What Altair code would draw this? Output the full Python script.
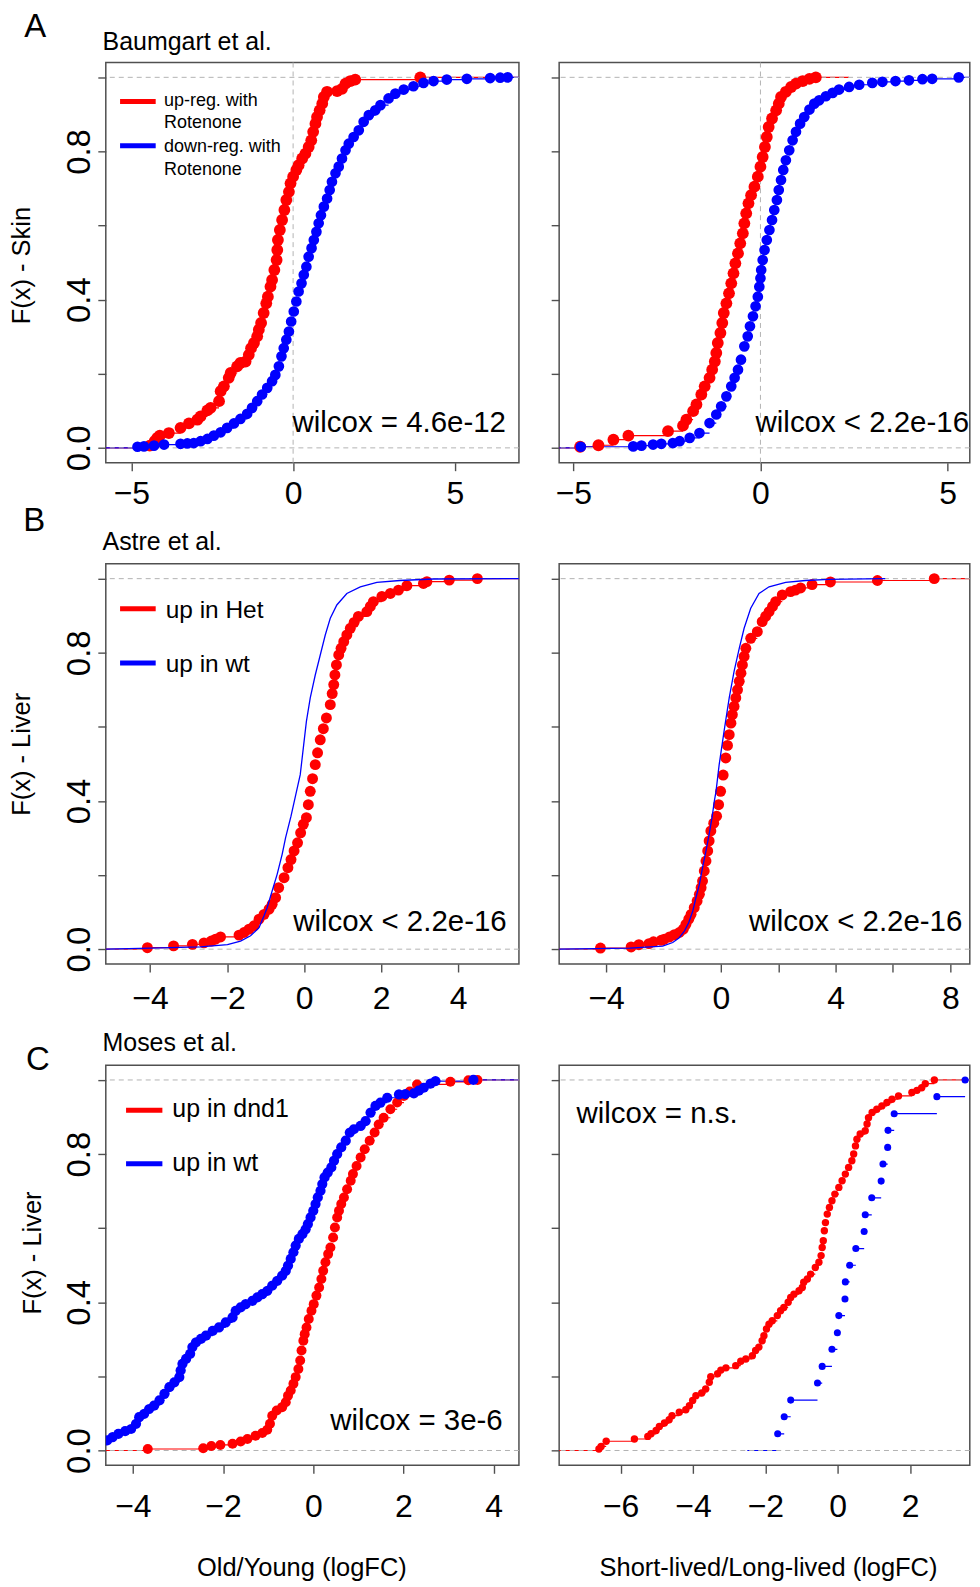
import json
import altair as alt
import pandas as pd

FONT = "Liberation Sans"
RED, BLUE, GRAY, FRAME = "#ff0000", "#0000ff", "#b3b3b3", "#505050"

# ---------------- text ----------------
panel_letters = ["A", "B", "C"]
study_titles = ["Baumgart et al.", "Astre et al.", "Moses et al."]
y_titles = ["F(x) - Skin", "F(x) - Liver", "F(x) - Liver"]
x_titles = ["Old/Young (logFC)", "Short-lived/Long-lived (logFC)"]
wilcox_labels = ["wilcox = 4.6e-12", "wilcox < 2.2e-16", "wilcox < 2.2e-16",
                 "wilcox < 2.2e-16", "wilcox = 3e-6", "wilcox = n.s."]
legend_A = [["up-reg. with", "Rotenone"], ["down-reg. with", "Rotenone"]]
legend_B = ["up in Het", "up in wt"]
legend_C = ["up in dnd1", "up in wt"]

y_ticks = [0, 0.2, 0.4, 0.6, 0.8, 1.0]
y_tick_labels = ["0.0", "0.4", "0.8"]
x_ticks_A = [-5, 0, 5]
x_ticks_B1 = [-4, -2, 0, 2, 4]
x_ticks_B2 = [-4, -2, 0, 2, 4, 6, 8]
x_labels_B2 = [-4, 0, 4, 8]
x_ticks_C1 = [-4, -2, 0, 2, 4]
x_ticks_C2 = [-6, -4, -2, 0, 2]

# ---------------- data (x = logFC, F = cumulative fraction) ----------------
# A, left (Old/Young, skin)
a1_red_x = [-4.43, -4.28, -4.20, -4.12, -3.84, -3.48, -3.22, -2.96, -2.86, -2.65, -2.55, -2.29, -2.24, -2.14,
            -1.99, -1.93, -1.73, -1.63, -1.47, -1.37, -1.30, -1.21, -1.11, -1.06, -0.99, -0.91, -0.83, -0.78,
            -0.70, -0.65, -0.58, -0.51, -0.49, -0.47, -0.41, -0.34, -0.27, -0.21, -0.13, -0.08, 0.00, 0.10,
            0.17, 0.28, 0.38, 0.48, 0.56, 0.62, 0.69, 0.74, 0.82, 0.90, 0.95, 1.05, 1.36, 1.51, 1.62, 1.77,
            1.92, 3.93]
a1_red_F = [0.006, 0.018, 0.027, 0.033, 0.040, 0.054, 0.066, 0.076, 0.085, 0.101, 0.108, 0.126, 0.153, 0.166,
            0.189, 0.202, 0.220, 0.229, 0.233, 0.251, 0.269, 0.283, 0.301, 0.319, 0.337, 0.364, 0.390, 0.408,
            0.435, 0.453, 0.480, 0.507, 0.534, 0.561, 0.588, 0.615, 0.642, 0.669, 0.691, 0.714, 0.732, 0.750,
            0.763, 0.781, 0.794, 0.812, 0.830, 0.853, 0.875, 0.893, 0.911, 0.929, 0.947, 0.961, 0.963, 0.969,
            0.983, 0.990, 0.994, 1.0]
a1_blue_x = [-4.81, -4.61, -4.30, -3.99, -3.48, -3.27, -3.07, -2.86, -2.65, -2.45, -2.24, -2.04, -1.83, -1.63,
             -1.42, -1.27, -1.11, -0.96, -0.80, -0.65, -0.55, -0.44, -0.36, -0.29, -0.21, -0.13, -0.06, 0.02,
             0.10, 0.17, 0.26, 0.33, 0.41, 0.48, 0.57, 0.64, 0.72, 0.79, 0.86, 0.95, 1.05, 1.13, 1.20, 1.31,
             1.41, 1.51, 1.62, 1.72, 1.87, 2.03, 2.18, 2.34, 2.54, 2.70, 2.95, 3.16, 3.42, 3.72, 4.03, 4.34,
             4.75, 5.37, 6.09, 6.40, 6.63]
a1_blue_F = [0.003, 0.004, 0.006, 0.009, 0.011, 0.012, 0.013, 0.018, 0.024, 0.033, 0.042, 0.054, 0.066, 0.078,
             0.092, 0.108, 0.126, 0.144, 0.162, 0.180, 0.197, 0.220, 0.247, 0.269, 0.292, 0.314, 0.341, 0.368,
             0.395, 0.422, 0.444, 0.467, 0.489, 0.516, 0.539, 0.561, 0.583, 0.606, 0.628, 0.651, 0.673, 0.696,
             0.718, 0.741, 0.759, 0.781, 0.803, 0.821, 0.839, 0.857, 0.880, 0.898, 0.911, 0.925, 0.943, 0.956,
             0.967, 0.976, 0.985, 0.990, 0.994, 0.996, 0.998, 0.999, 1.0]
# A, right (Short-lived/Long-lived, skin)
a2_red_x = [-4.82, -4.33, -3.93, -3.53, -2.47, -2.07, -1.98, -1.80, -1.71, -1.58, -1.49, -1.36, -1.29, -1.22,
            -1.18, -1.14, -1.07, -1.02, -0.98, -0.91, -0.84, -0.78, -0.72, -0.67, -0.60, -0.54, -0.47, -0.43,
            -0.38, -0.32, -0.25, -0.16, -0.07, 0.00, 0.06, 0.12, 0.17, 0.22, 0.31, 0.42, 0.49, 0.55, 0.68,
            0.82, 0.95, 1.13, 1.31, 1.48]
a2_red_F = [0.003, 0.007, 0.022, 0.033, 0.045, 0.060, 0.076, 0.099, 0.117, 0.144, 0.166, 0.189, 0.211, 0.233,
            0.256, 0.283, 0.310, 0.337, 0.364, 0.390, 0.417, 0.444, 0.471, 0.498, 0.525, 0.552, 0.579, 0.606,
            0.633, 0.660, 0.682, 0.705, 0.732, 0.759, 0.785, 0.812, 0.839, 0.866, 0.889, 0.911, 0.929, 0.947,
            0.961, 0.974, 0.983, 0.990, 0.996, 1.0]
a2_blue_x = [-4.80, -3.40, -3.18, -2.87, -2.65, -2.34, -2.16, -1.89, -1.63, -1.36, -1.18, -1.05, -0.91, -0.78,
             -0.69, -0.60, -0.52, -0.43, -0.34, -0.28, -0.20, -0.13, -0.07, -0.03, 0.00, 0.02, 0.06, 0.11,
             0.17, 0.24, 0.31, 0.37, 0.44, 0.49, 0.55, 0.61, 0.68, 0.77, 0.86, 0.95, 1.06, 1.17, 1.31, 1.44,
             1.57, 1.75, 1.93, 2.10, 2.37, 2.64, 2.99, 3.26, 3.61, 3.97, 4.33, 4.59, 5.30]
a2_blue_F = [0.003, 0.004, 0.006, 0.009, 0.011, 0.013, 0.018, 0.027, 0.040, 0.067, 0.090, 0.112, 0.139, 0.166,
             0.189, 0.211, 0.238, 0.274, 0.301, 0.328, 0.355, 0.382, 0.408, 0.435, 0.458, 0.480, 0.507, 0.534,
             0.561, 0.588, 0.615, 0.642, 0.669, 0.696, 0.723, 0.750, 0.776, 0.803, 0.830, 0.853, 0.875, 0.893,
             0.913, 0.929, 0.938, 0.949, 0.958, 0.967, 0.974, 0.980, 0.985, 0.988, 0.990, 0.992, 0.995, 0.996,
             1.0]
# B, left
b1_red_x = [-4.07, -3.39, -2.90, -2.60, -2.41, -2.30, -2.17, -1.69, -1.56, -1.43, -1.30, -1.17, -1.04, -0.91,
            -0.83, -0.74, -0.66, -0.52, -0.42, -0.34, -0.26, -0.17, -0.09, -0.02, 0.06, 0.11, 0.16, 0.22,
            0.29, 0.35, 0.42, 0.50, 0.58, 0.68, 0.73, 0.77, 0.80, 0.84, 0.90, 0.96, 1.03, 1.11, 1.20, 1.30,
            1.41, 1.63, 1.72, 1.80, 2.02, 2.24, 2.45, 2.67, 3.10, 3.19, 3.77, 4.50]
b1_red_F = [0.004, 0.009, 0.013, 0.017, 0.022, 0.027, 0.033, 0.038, 0.045, 0.054, 0.063, 0.081, 0.094, 0.108,
            0.121, 0.139, 0.166, 0.193, 0.220, 0.242, 0.265, 0.287, 0.314, 0.337, 0.355, 0.390, 0.426, 0.460,
            0.498, 0.530, 0.565, 0.595, 0.624, 0.660, 0.690, 0.714, 0.740, 0.767, 0.794, 0.812, 0.830, 0.848,
            0.866, 0.882, 0.898, 0.911, 0.925, 0.938, 0.952, 0.960, 0.969, 0.981, 0.987, 0.992, 0.996, 1.0]
b1_blue_x = [-5.15, -3.98, -2.69, -1.99, -1.65, -1.39, -1.17, -1.04, -0.96, -0.83, -0.70, -0.57, -0.48, -0.34,
             -0.22, -0.10, -0.01, 0.06, 0.16, 0.29, 0.42, 0.55, 0.68, 0.85, 1.11, 1.46, 1.89, 2.49, 3.36, 5.58]
b1_blue_F = [0.0, 0.003, 0.006, 0.012, 0.022, 0.036, 0.058, 0.090, 0.112, 0.157, 0.202, 0.256, 0.301, 0.359,
             0.415, 0.471, 0.552, 0.615, 0.678, 0.740, 0.794, 0.848, 0.893, 0.929, 0.960, 0.978, 0.990, 0.995,
             0.999, 1.0]
# B, right
b2_red_x = [-4.20, -3.13, -2.86, -2.51, -2.35, -2.08, -1.97, -1.79, -1.62, -1.45, -1.31, -1.22, -1.12, -1.04,
            -0.93, -0.83, -0.75, -0.69, -0.64, -0.58, -0.52, -0.46, -0.41, -0.35, -0.25, -0.15, -0.08, -0.01,
            0.08, 0.17, 0.23, 0.29, 0.35, 0.40, 0.46, 0.52, 0.58, 0.64, 0.70, 0.75, 0.81, 0.87, 1.04, 1.27,
            1.44, 1.56, 1.68, 1.80, 1.91, 2.14, 2.43, 2.60, 2.78, 3.18, 3.82, 5.46, 7.44]
b2_red_F = [0.003, 0.006, 0.012, 0.015, 0.020, 0.024, 0.027, 0.033, 0.039, 0.045, 0.054, 0.067, 0.081, 0.094,
            0.112, 0.130, 0.148, 0.166, 0.184, 0.211, 0.238, 0.265, 0.292, 0.319, 0.340, 0.359, 0.390, 0.426,
            0.470, 0.516, 0.550, 0.579, 0.610, 0.633, 0.655, 0.678, 0.700, 0.723, 0.745, 0.767, 0.790, 0.812,
            0.839, 0.857, 0.884, 0.898, 0.911, 0.925, 0.938, 0.956, 0.965, 0.969, 0.975, 0.984, 0.991, 0.995,
            1.0]
b2_blue_x = [-5.64, -3.18, -2.03, -1.68, -1.45, -1.27, -1.12, -0.98, -0.87, -0.75, -0.64, -0.52, -0.41, -0.31,
             -0.23, -0.17, -0.06, 0.11, 0.29, 0.46, 0.64, 0.81, 1.04, 1.33, 1.68, 2.26, 2.95, 3.76, 5.73]
b2_blue_F = [0.0, 0.003, 0.008, 0.018, 0.031, 0.049, 0.072, 0.103, 0.139, 0.175, 0.220, 0.265, 0.310, 0.355,
             0.399, 0.426, 0.498, 0.588, 0.678, 0.750, 0.812, 0.866, 0.920, 0.960, 0.978, 0.990, 0.995, 0.998,
             1.0]
# C, left
c1_red_x = [-3.67, -2.44, -2.26, -2.06, -1.79, -1.61, -1.46, -1.28, -1.13, -1.02, -0.96, -0.91, -0.81, -0.69,
            -0.61, -0.56, -0.50, -0.44, -0.39, -0.33, -0.29, -0.26, -0.22, -0.19, -0.15, -0.10, -0.04, 0.01,
            0.07, 0.13, 0.18, 0.22, 0.27, 0.33, 0.38, 0.44, 0.48, 0.53, 0.57, 0.62, 0.68, 0.75, 0.83, 0.88,
            0.96, 1.05, 1.14, 1.25, 1.36, 1.45, 1.56, 1.71, 1.86, 2.01, 2.14, 2.30, 3.04, 3.44, 3.64]
c1_red_F = [0.004, 0.006, 0.012, 0.015, 0.018, 0.024, 0.031, 0.040, 0.047, 0.056, 0.072, 0.094, 0.108, 0.117,
            0.130, 0.148, 0.162, 0.180, 0.198, 0.220, 0.243, 0.270, 0.296, 0.314, 0.332, 0.355, 0.377, 0.395,
            0.418, 0.440, 0.463, 0.485, 0.508, 0.530, 0.548, 0.575, 0.602, 0.629, 0.647, 0.665, 0.683, 0.705,
            0.728, 0.746, 0.768, 0.791, 0.813, 0.836, 0.858, 0.880, 0.898, 0.921, 0.939, 0.957, 0.969, 0.988,
            0.995, 0.999, 1.0]
c1_blue_x = [-4.57, -4.45, -4.32, -4.17, -4.04, -3.93, -3.86, -3.75, -3.64, -3.53, -3.41, -3.30, -3.19, -3.08,
             -2.97, -2.94, -2.90, -2.82, -2.73, -2.68, -2.60, -2.49, -2.38, -2.23, -2.09, -1.94, -1.79, -1.72,
             -1.61, -1.50, -1.35, -1.24, -1.13, -1.02, -0.91, -0.80, -0.69, -0.61, -0.56, -0.50, -0.44, -0.39,
             -0.32, -0.24, -0.17, -0.12, -0.06, 0.00, 0.05, 0.10, 0.16, 0.20, 0.25, 0.32, 0.40, 0.46, 0.53,
             0.62, 0.72, 0.81, 0.90, 1.05, 1.16, 1.27, 1.38, 1.49, 1.64, 1.90, 2.04, 2.23, 2.34, 2.45, 2.60,
             2.71, 3.55]
c1_blue_F = [0.027, 0.036, 0.045, 0.052, 0.058, 0.072, 0.090, 0.099, 0.112, 0.121, 0.135, 0.153, 0.171, 0.184,
             0.198, 0.216, 0.234, 0.247, 0.261, 0.279, 0.292, 0.301, 0.310, 0.323, 0.332, 0.346, 0.359, 0.377,
             0.386, 0.395, 0.404, 0.413, 0.422, 0.431, 0.445, 0.458, 0.472, 0.485, 0.499, 0.517, 0.535, 0.553,
             0.571, 0.584, 0.597, 0.611, 0.629, 0.647, 0.665, 0.683, 0.701, 0.719, 0.737, 0.750, 0.764, 0.782,
             0.800, 0.818, 0.836, 0.858, 0.867, 0.876, 0.889, 0.912, 0.930, 0.939, 0.952, 0.961, 0.962, 0.964,
             0.971, 0.979, 0.990, 0.997, 1.0]
# C, right
c2_red_x = [-6.60, -6.54, -6.40, -5.62, -5.25, -5.16, -5.02, -4.93, -4.79, -4.66, -4.58, -4.38, -4.20, -4.10,
            -4.01, -3.92, -3.76, -3.65, -3.55, -3.51, -3.32, -3.23, -3.09, -2.82, -2.68, -2.54, -2.36, -2.27,
            -2.18, -2.09, -2.04, -1.97, -1.90, -1.81, -1.67, -1.58, -1.49, -1.37, -1.30, -1.21, -1.07, -0.98,
            -0.94, -0.84, -0.75, -0.62, -0.52, -0.46, -0.43, -0.40, -0.37, -0.34, -0.29, -0.23, -0.16, -0.08,
            0.03, 0.12, 0.21, 0.30, 0.39, 0.44, 0.49, 0.53, 0.62, 0.76, 0.81, 0.85, 0.95, 1.08, 1.22, 1.36,
            1.50, 1.68, 2.05, 2.19, 2.32, 2.42, 2.67]
c2_red_F = [0.004, 0.011, 0.025, 0.031, 0.038, 0.045, 0.054, 0.065, 0.074, 0.083, 0.094, 0.103, 0.110, 0.121,
            0.135, 0.148, 0.155, 0.166, 0.184, 0.199, 0.207, 0.217, 0.223, 0.229, 0.241, 0.247, 0.256, 0.270,
            0.279, 0.296, 0.310, 0.328, 0.341, 0.350, 0.364, 0.377, 0.386, 0.400, 0.413, 0.422, 0.431, 0.440,
            0.454, 0.463, 0.476, 0.494, 0.508, 0.526, 0.548, 0.566, 0.593, 0.615, 0.638, 0.656, 0.674, 0.692,
            0.710, 0.728, 0.746, 0.764, 0.782, 0.800, 0.822, 0.840, 0.854, 0.863, 0.881, 0.898, 0.912, 0.921,
            0.930, 0.939, 0.948, 0.957, 0.966, 0.972, 0.979, 0.990, 1.0]
c2_blue_x = [-1.66, -1.48, -1.30, -0.56, -0.43, -0.16, -0.01, 0.03, 0.20, 0.21, 0.33, 0.50, 0.73, 0.76, 0.94,
             1.20, 1.25, 1.38, 1.39, 1.56, 2.74, 3.52]
c2_blue_F = [0.045, 0.091, 0.136, 0.182, 0.227, 0.273, 0.318, 0.364, 0.409, 0.455, 0.500, 0.545, 0.591, 0.636,
             0.682, 0.727, 0.773, 0.818, 0.864, 0.909, 0.955, 1.0]


# ---------------- helpers ----------------
def seg_table(c):
    rows = []
    xs, fs = c["x"], c["F"]
    n = min(len(xs), len(fs))
    if c["left"] is not None:
        rows.append({"x": c["left"], "x2": xs[0], "F": 0.0})
    for i in range(n):
        nxt = xs[i + 1] if i + 1 < n else c["right"]
        rows.append({"x": xs[i], "x2": nxt, "F": fs[i]})
    return pd.DataFrame(rows)


def pts_table(c):
    n = min(len(c["x"]), len(c["F"]))
    return pd.DataFrame({"x": c["x"][:n], "F": c["F"][:n], "i": list(range(n))})


def text_layer(t, x, y, size, align="left", baseline="alphabetic"):
    return alt.Chart(pd.DataFrame({"t": [t]})).mark_text(
        align=align, baseline=baseline, fontSize=size, font=FONT, color="black"
    ).encode(x=alt.value(x), y=alt.value(y), text="t:N")


def swatch(color, x1, x2, y):
    return alt.Chart(pd.DataFrame({"k": [0]})).mark_rule(color=color, strokeWidth=5).encode(
        x=alt.value(x1), x2=alt.value(x2), y=alt.value(y))


ylab_expr = "indexof(" + json.dumps(y_tick_labels) + ", datum.label) >= 0 ? datum.label : ''"


def y_left(title, tx, ty):
    return dict(values=y_ticks, format=".1f", labelExpr=ylab_expr, labelAngle=270, labelAlign="center",
                labelBaseline="alphabetic", labelFontSize=33, labelPadding=8.5, title=title, titleAngle=270,
                titleAlign="center", titleBaseline="alphabetic", titleFontSize=25.5, titleX=tx, titleY=ty)


y_right = dict(values=y_ticks, labels=False, title="")


def x_axis(ticks, pad, title="", tx=0, ty=0, shown=None):
    d = dict(values=ticks, format="d", labelFontSize=32, labelPadding=pad, labelBaseline="top", title=title)
    if shown is not None:
        d["labelExpr"] = "indexof(" + json.dumps(shown) + ", datum.value) >= 0 ? datum.label : ''"
    if title:
        d.update(titleFontSize=25.5, titleX=tx, titleY=ty, titleAlign="center", titleBaseline="alphabetic")
    return d


def curve(x, F, color, kind, left, right, size=60):
    return dict(x=x, F=F, color=color, kind=kind, left=left, right=right, size=size)


def make_panel(p):
    xs = alt.Scale(domain=p["xdom"], nice=False, zero=False)
    ys = alt.Scale(domain=[-0.04, 1.04], nice=False, zero=False)
    xax = alt.Axis(**p["xaxis"])
    yax = alt.Axis(**p["yaxis"])

    def X(f):
        return alt.X(f + ":Q", scale=xs, axis=xax)

    Y = alt.Y("F:Q", scale=ys, axis=yax)
    layers = []
    if p["vline"]:
        layers.append(alt.Chart(pd.DataFrame({"x": [0.0]})).mark_rule(
            color=GRAY, strokeWidth=1, strokeDash=[5, 4]).encode(x=X("x")))
    for c in p["curves"]:
        if c["kind"] == "points":
            layers.append(alt.Chart(seg_table(c)).mark_rule(color=c["color"], strokeWidth=1.2, clip=True).encode(
                x=X("x"), x2=alt.X2("x2:Q"), y=Y))
    layers.append(alt.Chart(pd.DataFrame({"F": [0.0, 1.0]})).mark_rule(
        color=GRAY, strokeWidth=1, strokeDash=[5, 4]).encode(y=Y))
    for c in p["curves"]:
        if c["kind"] == "points":
            layers.append(alt.Chart(pts_table(c)).mark_circle(
                color=c["color"], size=c["size"], opacity=1, clip=True).encode(x=X("x"), y=Y))
        else:
            layers.append(alt.Chart(pts_table(c)).mark_line(
                color=c["color"], strokeWidth=1.3, clip=True).encode(x=X("x"), y=Y, order="i:Q"))
    for t in p["texts"]:
        layers.append(text_layer(**t))
    for s in p["swatches"]:
        layers.append(swatch(**s))
    if p.get("anchor"):
        layers.append(alt.Chart(pd.DataFrame({"k": [0]})).mark_rule(opacity=0, strokeWidth=0.01).encode(
            x=alt.value(-97), x2=alt.value(-96), y=alt.value(-51.3)))
    return alt.layer(*layers).properties(width=p["w"], height=p["h"])


# right-column panels are a little narrower so the page does not overflow its 964px body
WL, WR, H = 414, 411.5, 401

panels = [
    dict(w=WL, h=H, xdom=[-5.79, 6.98], vline=True, anchor=True,
         xaxis=x_axis(x_ticks_A, 8), yaxis=y_left(y_titles[0], -76.2, 203),
         curves=[curve(a1_red_x, a1_red_F, RED, "points", -5.79, 6.98, 140),
                 curve(a1_blue_x, a1_blue_F, BLUE, "points", -5.79, 6.98, 115)],
         texts=[dict(t=panel_letters[0], x=-81.7, y=-51.3, size=33, baseline="top"),
                dict(t=study_titles[0], x=-3.3, y=-12.6, size=25),
                dict(t=wilcox_labels[0], x=401, y=370.7, size=29.5, align="right"),
                dict(t=legend_A[0][0], x=58.3, y=43.4, size=18),
                dict(t=legend_A[0][1], x=58.3, y=65.7, size=18),
                dict(t=legend_A[1][0], x=58.3, y=90.0, size=18),
                dict(t=legend_A[1][1], x=58.3, y=112.4, size=18)],
         swatches=[dict(color=RED, x1=14.3, x2=50, y=39), dict(color=BLUE, x1=14.3, x2=50, y=83.4)]),
    dict(w=WR, h=H, xdom=[-5.38, 5.596], vline=True,
         xaxis=x_axis(x_ticks_A, 8), yaxis=y_right,
         curves=[curve(a2_red_x, a2_red_F, RED, "points", -5.38, 2.37, 140),
                 curve(a2_blue_x, a2_blue_F, BLUE, "points", -5.38, 5.596, 115)],
         texts=[dict(t=wilcox_labels[1], x=410.7, y=370.7, size=29.5, align="right")],
         swatches=[]),
    dict(w=WL, h=H, xdom=[-5.15, 5.58], vline=False,
         xaxis=x_axis(x_ticks_B1, 12), yaxis=y_left(y_titles[1], -76.2, 190.3),
         curves=[curve(b1_red_x, b1_red_F, RED, "points", -5.15, 5.58, 120),
                 curve(b1_blue_x, b1_blue_F, BLUE, "line", None, None)],
         texts=[dict(t=panel_letters[1], x=-82.6, y=-58.8, size=33, baseline="top"),
                dict(t=study_titles[1], x=-3.3, y=-14, size=25),
                dict(t=wilcox_labels[2], x=401.7, y=367.6, size=29.5, align="right"),
                dict(t=legend_B[0], x=60, y=54.3, size=24.5),
                dict(t=legend_B[1], x=60, y=108.6, size=24.5)],
         swatches=[dict(color=RED, x1=14.3, x2=50, y=45), dict(color=BLUE, x1=14.3, x2=50, y=99.3)]),
    dict(w=WR, h=H, xdom=[-5.64, 8.68], vline=False,
         xaxis=x_axis(x_ticks_B2, 12, shown=x_labels_B2), yaxis=y_right,
         curves=[curve(b2_red_x, b2_red_F, RED, "points", -5.64, 8.68, 120),
                 curve(b2_blue_x, b2_blue_F, BLUE, "line", None, None)],
         texts=[dict(t=wilcox_labels[3], x=404, y=368.3, size=29.5, align="right")],
         swatches=[]),
    dict(w=WL, h=H, xdom=[-4.60, 4.56], vline=False,
         xaxis=x_axis(x_ticks_C1, 18, x_titles[0], 196, 110), yaxis=y_left(y_titles[2], -65.4, 187.7),
         curves=[curve(c1_red_x, c1_red_F, RED, "points", -4.60, 4.56, 100),
                 curve(c1_blue_x, c1_blue_F, BLUE, "points", None, 4.56, 105)],
         texts=[dict(t=panel_letters[2], x=-79.9, y=-21.4, size=33, baseline="top"),
                dict(t=study_titles[2], x=-3.3, y=-14, size=25),
                dict(t=wilcox_labels[4], x=397.7, y=366, size=29.5, align="right"),
                dict(t=legend_C[0], x=66.7, y=52, size=25),
                dict(t=legend_C[1], x=66.7, y=106, size=25)],
         swatches=[dict(color=RED, x1=20.3, x2=56.7, y=45.3), dict(color=BLUE, x1=20.3, x2=56.7, y=98.7)]),
    dict(w=WR, h=H, xdom=[-7.70, 3.65], vline=False,
         xaxis=x_axis(x_ticks_C2, 18, x_titles[1], 209.3, 110), yaxis=y_right,
         curves=[curve(c2_red_x, c2_red_F, RED, "points", -7.70, 3.65, 55),
                 curve(c2_blue_x, c2_blue_F, BLUE, "points", -2.50, 3.65, 50)],
         texts=[dict(t=wilcox_labels[5], x=17.4, y=57.7, size=29.5)],
         swatches=[]),
]

chart = alt.concat(
    *[make_panel(p) for p in panels],
    columns=2, spacing={"row": 101.35, "column": 40.3}, bounds="flush", align="each",
).properties(padding=0).configure_view(
    stroke=FRAME, strokeWidth=1.5
).configure_axis(
    grid=False, domain=False, ticks=True, tickSize=8, tickColor=FRAME, tickWidth=1.4,
    labelColor="black", labelFont=FONT, titleFont=FONT, titleColor="black", titleFontWeight="normal",
    labelFlush=False, labelOverlap=False, labelBound=False,
)

chart.save("out.html", embed_options={"renderer": "svg", "actions": False})
